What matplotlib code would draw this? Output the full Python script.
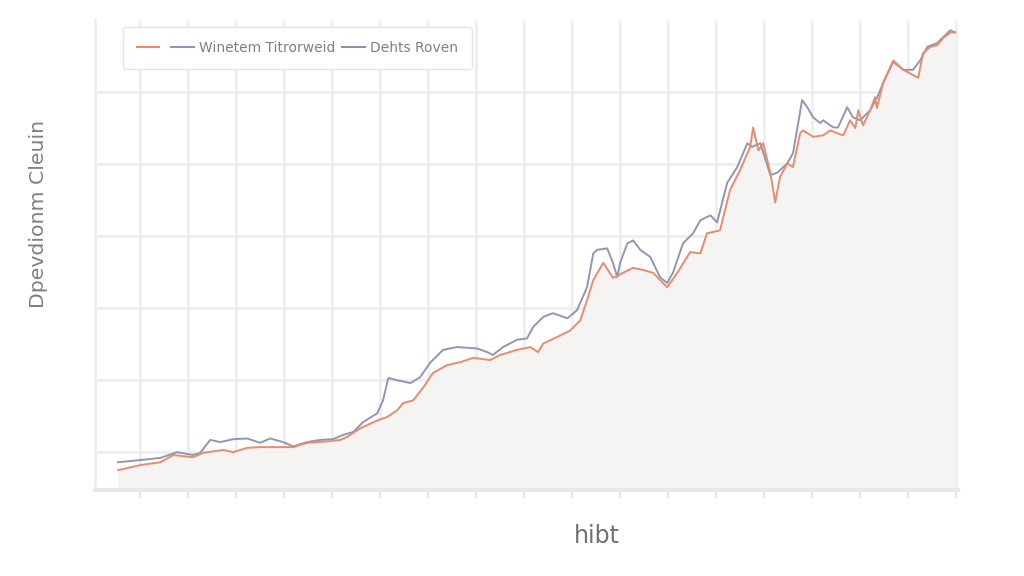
import matplotlib
matplotlib.use("Agg")
import matplotlib.pyplot as plt
from matplotlib.lines import Line2D

# ---- data (arbitrary units) ----
orange_x = [-4.6, 0, 4.2, 6.9, 11.0, 13.1, 17.3, 19.4, 22.3, 25.0,
            28.5, 31.9, 34.8, 39.0, 41.7, 43.1, 45.8, 49.4, 51.5, 53.5,
            54.8, 56.9, 59.0, 61.0, 64.0, 66.7, 69.4, 72.9, 75.0, 78.5,
            81.3, 82.9, 84.0, 86.9, 89.6, 91.7, 93.1, 94.4, 96.5, 98.5,
            100.6, 102.7, 104.8, 106.9, 109.8, 111.9, 114.6, 116.7, 118.1, 120.8,
            122.9, 125.0, 127.1, 127.7, 128.8, 129.8, 131.3, 132.3, 133.3, 134.8,
            136.0, 137.5, 138.1, 140.2, 142.3, 143.8, 145.2, 146.5, 147.9, 149.0,
            149.6, 150.6, 152.1, 153.1, 153.5, 154.8, 156.9, 159.0, 160.4, 162.1,
            163.1, 164.6, 166.0, 167.3, 168.8, 169.8]
orange_y = [7.5, 8.2, 8.6, 9.6, 9.3, 9.9, 10.3, 10.0, 10.6, 10.7,
            10.7, 10.7, 11.3, 11.5, 11.7, 12.1, 13.3, 14.4, 14.9, 15.8,
            16.8, 17.2, 19.0, 21.0, 22.1, 22.5, 23.1, 22.8, 23.5, 24.2,
            24.6, 23.9, 25.1, 26.0, 26.9, 28.3, 31.1, 33.9, 36.3, 34.2,
            34.9, 35.6, 35.3, 34.9, 32.9, 34.9, 37.8, 37.6, 40.4, 40.8,
            46.4, 49.2, 52.4, 55.1, 51.9, 52.9, 48.8, 44.7, 48.2, 50.1,
            49.6, 54.3, 54.7, 53.8, 54.0, 54.7, 54.3, 54.0, 56.1, 55.0,
            57.5, 55.4, 57.5, 59.3, 57.8, 61.3, 64.4, 63.1, 62.6, 62.0,
            65.4, 66.3, 66.5, 67.5, 68.3, 68.3]

blue_x = [-4.6, 0, 4.2, 7.7, 11.0, 12.5, 14.6, 16.7, 19.4, 22.3,
          25.0, 27.1, 29.8, 31.9, 34.8, 37.5, 40.2, 42.3, 44.4, 46.5,
          49.4, 50.6, 51.7, 53.5, 56.3, 58.3, 60.4, 63.1, 66.0, 70.2,
          72.3, 73.5, 75.6, 78.5, 80.6, 81.9, 84.0, 86.0, 89.0, 91.0,
          93.1, 94.4, 95.2, 97.3, 98.5, 99.4, 100.0, 101.5, 102.7, 104.2,
          106.3, 108.3, 109.8, 111.0, 113.1, 115.2, 116.7, 118.8, 120.2, 122.3,
          124.4, 126.5, 127.5, 129.2, 131.3, 132.7, 134.8, 136.0, 137.1, 137.9,
          139.0, 140.2, 141.7, 142.3, 144.4, 145.4, 147.3, 148.5, 150.0, 152.1,
          153.5, 154.8, 156.9, 159.0, 161.0, 162.5, 164.0, 166.0, 168.8, 169.8]
blue_y = [8.6, 8.9, 9.2, 10.0, 9.6, 9.9, 11.7, 11.4, 11.8, 11.9,
          11.3, 11.9, 11.4, 10.8, 11.4, 11.7, 11.8, 12.4, 12.8, 14.2,
          15.4, 17.2, 20.3, 20.0, 19.6, 20.4, 22.4, 24.2, 24.6, 24.4,
          23.9, 23.5, 24.6, 25.6, 25.8, 27.4, 28.8, 29.3, 28.6, 29.7,
          32.9, 37.6, 38.1, 38.3, 36.3, 34.3, 36.3, 39.0, 39.4, 38.1,
          37.1, 34.3, 33.5, 34.9, 39.0, 40.4, 42.2, 42.9, 41.9, 47.4,
          49.6, 52.9, 52.4, 52.9, 48.5, 48.8, 50.1, 51.5, 55.7, 58.9,
          57.9, 56.5, 55.7, 56.1, 55.1, 55.1, 57.9, 56.5, 56.1, 57.5,
          59.2, 61.3, 64.2, 63.1, 63.1, 64.4, 66.3, 66.8, 68.6, 68.3]

legend_labels = ["", "Winetem Titrorweid", "Dehts Roven"]
x_label = "hibt"
y_label = "Dpevdionm Cleuin"
x_ticks = list(range(0, 171, 10))
y_ticks = list(range(10, 61, 10))

# ---- styling ----
ORANGE = "#e98b6e"
BLUE = "#8f97b3"
GRAY = "#8d919f"
GRID = "#eeeeee"
TEXT = "#808080"

plt.rcParams["font.family"] = ["DejaVu Sans"]

fig = plt.figure(figsize=(10.24, 5.76), dpi=100, facecolor="white")
ax = fig.add_axes([0.0928, 0.149, 0.8428, 0.816])
ax.set_facecolor("white")

ax.fill_between(orange_x, orange_y, 0, color="#f5f4f2", zorder=1, lw=0)
ax.plot(blue_x, blue_y, color=BLUE, lw=1.4, zorder=3)
ax.plot(orange_x, orange_y, color=ORANGE, lw=1.4, zorder=4)

ax.set_xlim(-9.4, 170.4)
ax.set_ylim(4.72, 70)
ax.set_xticks(x_ticks)
ax.set_yticks(y_ticks)
ax.set_xticklabels([])
ax.set_yticklabels([])
ax.grid(True, color=GRID, lw=2.0, zorder=0)
ax.set_axisbelow(True)

for s in ["top", "right"]:
    ax.spines[s].set_visible(False)
ax.spines["left"].set_color("#efefef")
ax.spines["left"].set_linewidth(2)
ax.spines["bottom"].set_color("#e8e8e8")
ax.spines["bottom"].set_linewidth(3)
ax.tick_params(axis="x", length=6, width=1.5, color="#e4e4e4")
ax.tick_params(axis="y", length=0)

ax.set_xlabel(x_label, fontsize=17, color="#707070")
ax.xaxis.set_label_coords(0.581, -0.072)
ax.set_ylabel(y_label, fontsize=14.7, color=TEXT)
ax.yaxis.set_label_coords(-0.055, 0.587)

handles = [Line2D([], [], color=ORANGE, lw=1.5),
           Line2D([], [], color=BLUE, lw=1.5),
           Line2D([], [], color=GRAY, lw=1.5)]
leg = ax.legend(handles, legend_labels, ncol=3, loc="upper left",
                bbox_to_anchor=(0.024, 1.0), frameon=True, fontsize=10,
                handlelength=1.6, handletextpad=0.4, columnspacing=0.5,
                borderpad=1.0, fancybox=True, labelcolor=TEXT)
leg.get_frame().set_edgecolor("#e4e4e4")
leg.get_frame().set_linewidth(1.0)
leg.get_frame().set_facecolor("white")
leg.get_frame().set_alpha(1.0)

fig.savefig("out.png", dpi=100, facecolor="white")
